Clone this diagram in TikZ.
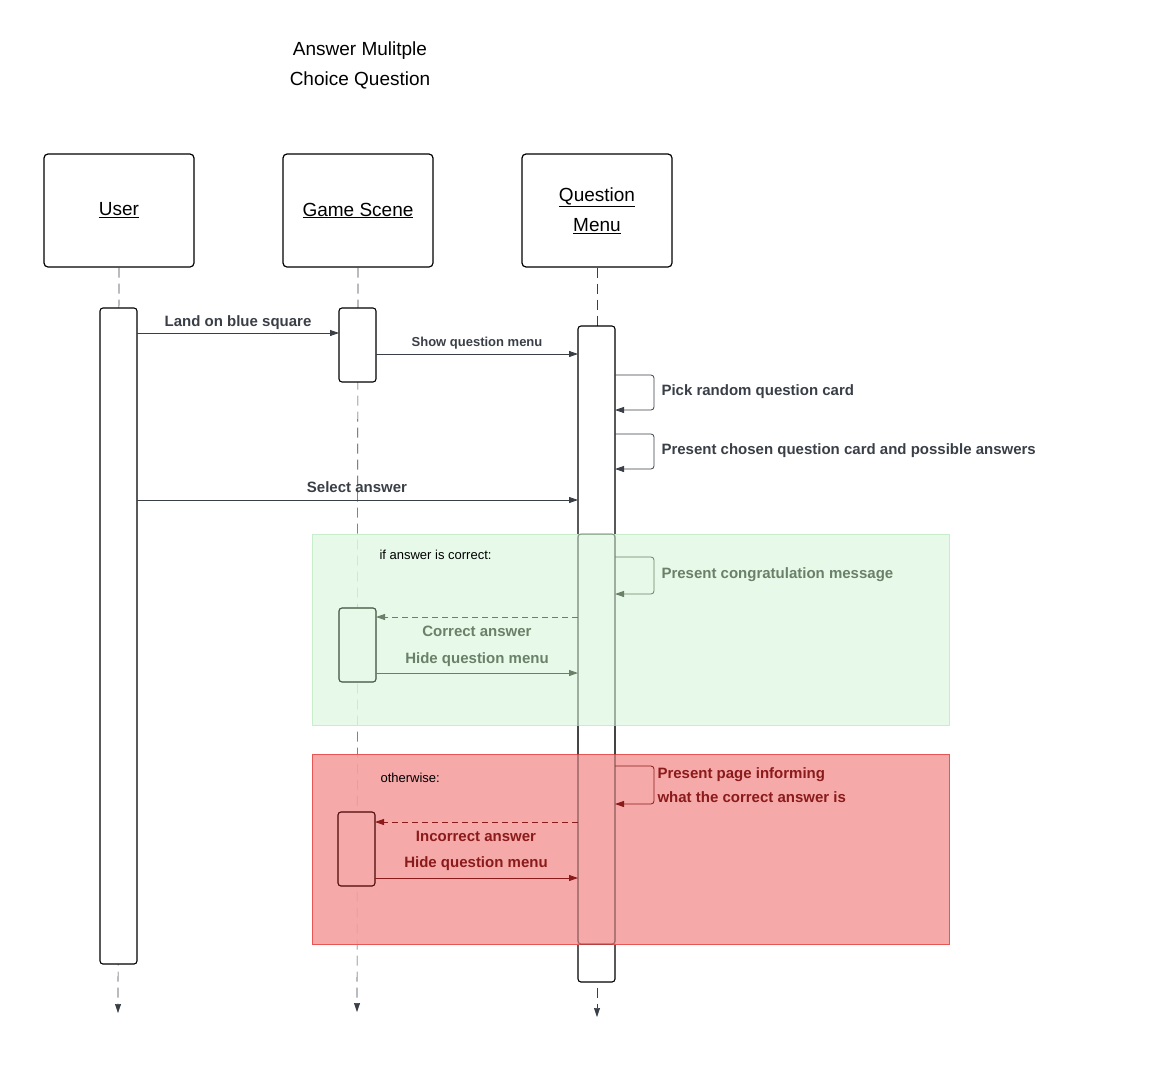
\documentclass[tikz,border=0pt]{standalone}
\usepackage{fontspec}
\setmainfont{Liberation Sans}
\usetikzlibrary{arrows.meta}
\definecolor{ln}{HTML}{3A3F47}
\definecolor{gtx}{HTML}{6B8068}
\definecolor{rtx}{HTML}{8B1A1A}
\definecolor{gfill}{HTML}{E3F9E5}
\definecolor{gbord}{HTML}{C8EDCB}
\definecolor{rfill}{HTML}{F4A0A0}
\definecolor{rbord}{HTML}{E85555}
\tikzset{
  head/.style={draw=black,line width=1.2pt,rounded corners=4pt,minimum width=150pt,minimum height=113pt,font=\fontsize{19}{30}\selectfont,align=center,fill=white},
  act/.style={draw=black,line width=1.1pt,rounded corners=3pt,fill=white},
  life/.style={draw=ln,dash pattern=on 10pt off 6pt,line width=0.6pt},
  msg/.style={draw=ln,line width=0.8pt,-{Triangle[length=9pt,width=6pt]}},
  lbl/.style={font=\bfseries\fontsize{15}{18}\selectfont,text=ln},
  ret/.style={dash pattern=on 6pt off 4pt}
}
\begin{document}
\begin{tikzpicture}[x=1pt,y=-1pt]
\useasboundingbox (0,0) rectangle (1160,1074);
\node[align=center,font=\fontsize{19}{30}\selectfont] (title) at (360,65) {Answer Mulitple\\Choice Question};
% heads
\node[head] (U) at (119,210.5) {\underline{User}};
\node[head] (G) at (358,210.5) {\underline{Game Scene}};
\node[head] (Q) at (597,210.5) {\underline{Question}\\\underline{Menu}};
% lifelines
\coordinate (Ue) at (118,1013); \coordinate (Ge) at (357,1012); \coordinate (Qe) at (597,1017);
\draw[life,-{Triangle[length=9pt,width=6pt]}] (U.south) -- (Ue);
\draw[life,-{Triangle[length=9pt,width=6pt]}] (G.south) -- (Ge);
\draw[life,-{Triangle[length=9pt,width=6pt]}] (Q.south) -- (Qe);
% activations
\draw[act] (100,308) rectangle (137,964);
\draw[act] (339,308) rectangle (376,382);
\draw[act] (578,326) rectangle (615,982);
\draw[act] (339,608) rectangle (376,682);
\draw[act] (338,812) rectangle (375,886);
% fragments
\node[draw=gbord,fill=gfill,fill opacity=0.85,minimum width=637pt,minimum height=191pt,inner sep=0pt] (gf) at (630.5,629.5) {};
\node[draw=rbord,line width=0.8pt,fill=rfill,fill opacity=0.9,minimum width=637pt,minimum height=190pt,inner sep=0pt] (rf) at (630.5,849) {};
\begin{scope}[opacity=0.35]
\draw[act,fill=none] (578,534) rectangle (615,944);
\end{scope}
\draw[act,draw=gtx!70!black,fill=none] (339,608) rectangle (376,682);
\draw[act,draw=rtx!60!black,fill=none] (338,812) rectangle (375,886);
% messages
\coordinate (a1) at (137,333); \coordinate (b1) at (339,333);
\draw[msg] (a1) -- node[lbl,above=0pt] {Land on blue square} (b1);
\coordinate (a2) at (376,354); \coordinate (b2) at (578,354);
\draw[msg] (a2) -- node[lbl,above=1pt,font=\bfseries\fontsize{13}{15}\selectfont] {Show question menu} (b2);
\coordinate (l1) at (615,375); \coordinate (l1e) at (615,410);
\draw[msg,rounded corners=3pt] (l1) -- (654,375) -- (654,410) -- (l1e);
\node[lbl,anchor=west] (t1) at (658,392) {Pick random question card};
\coordinate (l2) at (615,434); \coordinate (l2e) at (615,469);
\draw[msg,rounded corners=3pt] (l2) -- (654,434) -- (654,469) -- (l2e);
\node[lbl,anchor=west] (t2) at (658,451) {Present chosen question card and possible answers};
\coordinate (a3) at (137,500); \coordinate (b3) at (578,500);
\draw[msg] (a3) -- (b3);
\node[lbl] (t3) at (357,487) {Select answer};
% correct
\node[anchor=west,font=\fontsize{13}{15}\selectfont] (c1) at (376,555) {if answer is correct:};
\coordinate (l3) at (615,557); \coordinate (l3e) at (615,594);
\draw[msg,draw=gtx,rounded corners=3pt] (l3) -- (654,557) -- (654,594) -- (l3e);
\node[lbl,text=gtx,anchor=west] (t4) at (658,575) {Present congratulation message};
\coordinate (a4) at (578,617); \coordinate (b4) at (376,617);
\draw[msg,draw=gtx,ret] (a4) -- (b4);
\node[lbl,text=gtx] (t5) at (477,631) {Correct answer};
\coordinate (a5) at (376,673); \coordinate (b5) at (578,673);
\draw[msg,draw=gtx] (a5) -- (b5);
\node[lbl,text=gtx] (t6) at (477,660) {Hide question menu};
% otherwise
\node[anchor=west,font=\fontsize{13}{15}\selectfont] (o1) at (377,778) {otherwise:};
\coordinate (l4) at (615,766); \coordinate (l4e) at (615,804);
\draw[msg,draw=rtx,rounded corners=3pt] (l4) -- (654,766) -- (654,804) -- (l4e);
\node[lbl,text=rtx,anchor=west,align=left,font=\bfseries\fontsize{15}{24}\selectfont] (t7) at (654,785) {Present page informing\\what the correct answer is};
\coordinate (a6) at (578,822); \coordinate (b6) at (375,822);
\draw[msg,draw=rtx,ret] (a6) -- (b6);
\node[lbl,text=rtx] (t8) at (476,836) {Incorrect answer};
\coordinate (a7) at (375,878); \coordinate (b7) at (578,878);
\draw[msg,draw=rtx] (a7) -- (b7);
\node[lbl,text=rtx] (t9) at (476,864) {Hide question menu};
\end{tikzpicture}
\end{document}
